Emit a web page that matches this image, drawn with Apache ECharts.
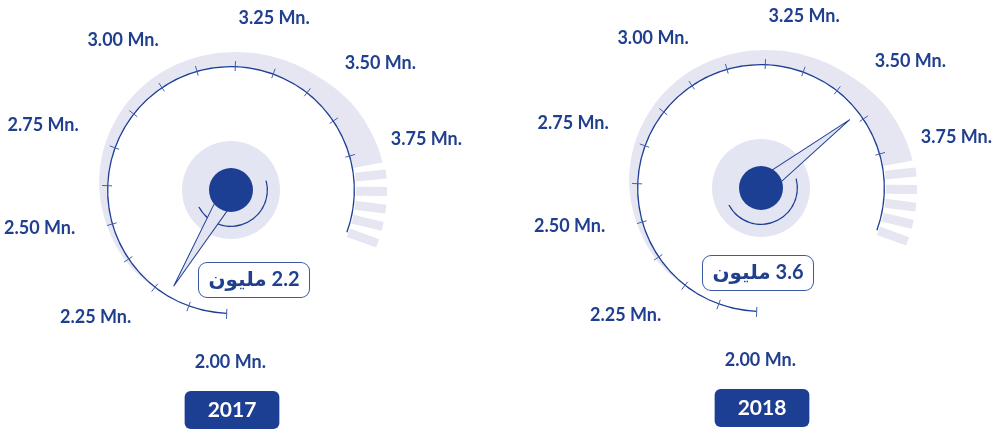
<!DOCTYPE html>
<html><head><meta charset="utf-8">
<script src="https://cdn.jsdelivr.net/npm/echarts@6/dist/echarts.min.js"></script>
<style>html,body{margin:0;padding:0;background:#fff}#c{width:992px;height:429px}</style>
</head><body><div id="c"></div>
<script>
// ---- data ----
const years = ['2017', '2018'];
const values = [2.2, 3.6];
const valueUnit = 'مليون';
const scaleMin = 2.0, scaleMax = 4.0, tickedMax = 3.75;
const tickValues = [2.00, 2.25, 2.50, 2.75, 3.00, 3.25, 3.50, 3.75];
const tickLabels = ['2.00 Mn.', '2.25 Mn.', '2.50 Mn.', '2.75 Mn.', '3.00 Mn.', '3.25 Mn.', '3.50 Mn.', '3.75 Mn.'];
// decorative outer band: thickness (px) read at scale positions
const bandValues = [2.25, 2.375, 2.5, 2.625, 2.75, 2.875, 3.0, 3.125, 3.25, 3.375, 3.5, 3.625, 3.75, 3.79];
const bandWidths = [0, 3, 5, 8, 10, 11.5, 12.5, 13, 14, 16, 19, 25, 29, 30];
const stripeValues = [3.82, 3.865, 3.91, 3.955, 4.0];

// ---- style / layout ----
const DARK = '#1d3f93', TEXT = '#203f8f', BAND = '#e6e6f3', LIGHT = '#e4e5f2', TICK = '#4560aa';
const START = 268, SWEEP = 288;
const R = 124, PR = 160;
const centers = [[231, 190], [761, 188]];
const detailOffsets = [[23, 90], [-3, 85]];
const FF = 'Lato, "DejaVu Sans", sans-serif';
function angleOf(v) { return START - (v - scaleMin) / (scaleMax - scaleMin) * SWEEP; }
const fullTurn = (scaleMax - scaleMin) * 360 / SWEEP;

const F = { fontFamily: FF, fontWeight: 'bold', fontSize: 18, color: TEXT, lineHeight: 18 };
const rich = {
  t0: Object.assign({}, F, { padding: [2, 0, 0, 10] }),
  t1: Object.assign({}, F, { padding: [0, 0, 19, 0] }),
  t2: Object.assign({}, F, { padding: [0, 0, 13, 0] }),
  t3: Object.assign({}, F),
  t4: Object.assign({}, F, { padding: [0, 0, 13, 0], width: 53, align: 'left' }),
  t5: Object.assign({}, F, { padding: [0, 0, 1, 75] }),
  t6: Object.assign({}, F, { padding: [19, 0, 0, 14] }),
  t7: Object.assign({}, F, { padding: [0, 0, 12, 4] })
};

const polar = [], angleAxis = [], radiusAxis = [], series = [];
const hidden = { show: false };
const noLine = { show: false, lineStyle: { width: 0 } };

centers.forEach(function (c, i) {
  polar.push({ center: c, radius: PR });
  radiusAxis.push({ polarIndex: i, type: 'value', min: 0, max: PR, show: false });
  angleAxis.push({
    polarIndex: i, type: 'value', min: scaleMin, max: scaleMin + fullTurn, interval: 0.25,
    startAngle: START, clockwise: true,
    axisLine: hidden, axisTick: hidden, splitLine: hidden,
    axisLabel: {
      margin: 2, fontFamily: FF, fontWeight: 'bold', fontSize: 18, color: TEXT, rich: rich,
      formatter: function (v) {
        for (let k = 0; k < tickValues.length; k++) {
          if (Math.abs(v - tickValues[k]) < 1e-6) return '{t' + k + '|' + tickLabels[k] + '}';
        }
        return '';
      }
    }
  });

  // outer lavender band
  series.push({
    type: 'custom', coordinateSystem: 'polar', polarIndex: i, z: 1, silent: true,
    data: [[R, bandValues[0]]],
    renderItem: function (params, api) {
      const pts = [], n = bandValues.length, steps = 8;
      for (let a = 0; a < n - 1; a++) for (let k = 0; k < steps; k++) {
        const t = k / steps;
        pts.push(api.coord([R - 1, bandValues[a] + (bandValues[a + 1] - bandValues[a]) * t]));
      }
      pts.push(api.coord([R - 1, bandValues[n - 1]]));
      for (let a = n - 1; a > 0; a--) for (let k = 0; k < steps; k++) {
        const t = k / steps;
        const v = bandValues[a] + (bandValues[a - 1] - bandValues[a]) * t;
        const w = bandWidths[a] + (bandWidths[a - 1] - bandWidths[a]) * t;
        pts.push(api.coord([R + w, v]));
      }
      pts.push(api.coord([R - 1, bandValues[0]]));
      return { type: 'polygon', shape: { points: pts }, style: { fill: BAND } };
    }
  });

  // stripes
  series.push({
    type: 'gauge', center: c, radius: R, z: 1, silent: true,
    min: stripeValues[0], max: stripeValues[stripeValues.length - 1],
    startAngle: angleOf(stripeValues[0]), endAngle: angleOf(stripeValues[stripeValues.length - 1]),
    splitNumber: stripeValues.length - 1,
    axisLine: noLine, axisTick: hidden, axisLabel: hidden, pointer: hidden, detail: hidden, title: hidden,
    splitLine: { show: true, length: 31, distance: -32, lineStyle: { width: 9, color: BAND } },
    data: []
  });

  // main arc + light centre disc
  series.push({
    type: 'gauge', center: c, radius: R, z: 3, silent: true,
    min: scaleMin, max: scaleMax, startAngle: START, endAngle: angleOf(scaleMax),
    axisLine: { show: true, lineStyle: { width: 1.3, color: [[1, DARK]] } },
    splitLine: hidden, axisTick: hidden, axisLabel: hidden, pointer: hidden, detail: hidden, title: hidden,
    anchor: { show: true, showAbove: false, size: 98, itemStyle: { color: LIGHT } },
    data: []
  });

  // ticks
  series.push({
    type: 'gauge', center: c, radius: R, z: 3, silent: true,
    min: scaleMin, max: tickedMax, startAngle: START, endAngle: angleOf(tickedMax),
    splitNumber: Math.round((tickedMax - scaleMin) / 0.125),
    axisLine: noLine, axisTick: hidden, axisLabel: hidden, pointer: hidden, detail: hidden, title: hidden,
    splitLine: { show: true, length: 10, distance: -5, lineStyle: { width: 1, color: TICK } },
    data: []
  });

  // small inner arc
  series.push({
    type: 'gauge', center: c, radius: 37, z: 4, silent: true,
    startAngle: 15, endAngle: -152,
    axisLine: { show: true, lineStyle: { width: 1.3, color: [[1, DARK]] } },
    splitLine: hidden, axisTick: hidden, axisLabel: hidden, pointer: hidden, detail: hidden, title: hidden,
    data: []
  });

  // value needle, centre, value box, year box
  series.push({
    type: 'gauge', center: c, radius: R, z: 5,
    min: scaleMin, max: scaleMax, startAngle: START, endAngle: angleOf(scaleMax),
    axisLine: noLine, splitLine: hidden, axisTick: hidden, axisLabel: hidden,
    pointer: {
      show: true, icon: 'path://M5 0 L10 100 L0 100 Z', length: 112, width: 18, keepAspect: false,
      itemStyle: { color: LIGHT, borderColor: DARK, borderWidth: 1 }
    },
    anchor: { show: true, showAbove: true, size: 44, itemStyle: { color: DARK } },
    title: {
      show: true, offsetCenter: [1, 220], color: '#fff', fontFamily: FF, fontWeight: 'bold',
      fontSize: 21, lineHeight: 20, backgroundColor: DARK, borderRadius: 6, padding: [9, 23]
    },
    detail: {
      show: true, offsetCenter: detailOffsets[i], width: 110, height: 34, padding: 0,
      backgroundColor: '#fff', borderColor: '#3c59a6', borderWidth: 1, borderRadius: 8,
      color: TEXT, fontFamily: FF, fontWeight: 'bold', fontSize: 20, lineHeight: 34,
      formatter: function (v) { return '\u202B' + v + ' ' + valueUnit + '\u202C'; }
    },
    data: [{ value: values[i], name: years[i] }]
  });
});

const chart = echarts.init(document.getElementById('c'));
chart.setOption({
  animation: false,
  backgroundColor: '#fff',
  polar: polar, angleAxis: angleAxis, radiusAxis: radiusAxis,
  series: series
});
</script>
</body></html>
